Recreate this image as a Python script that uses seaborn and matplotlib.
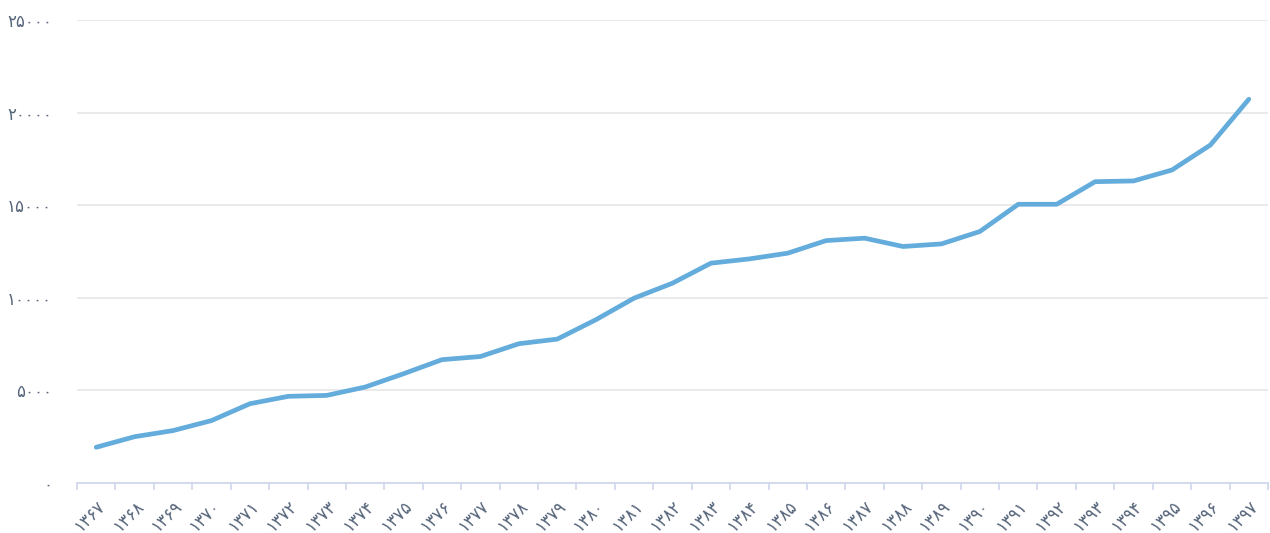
import matplotlib
matplotlib.use("Agg")
import matplotlib.pyplot as plt
from matplotlib.ticker import FixedLocator, FuncFormatter
import seaborn as sns
import pandas as pd

# Solar Hijri years and their values
years = list(range(1367, 1398))
values = [1930, 2500, 2830, 3370, 4280, 4680, 4730, 5180, 5900, 6660,
          6830, 7520, 7770, 8810, 9980, 10790, 11870, 12100, 12410, 13090,
          13220, 12770, 12910, 13580, 15050, 15050, 16270, 16310, 16900,
          18250, 20720]
y_ticks = [0, 5000, 10000, 15000, 20000, 25000]

PERSIAN = str.maketrans("0123456789", "۰۱۲۳۴۵۶۷۸۹")


def fa(n):
    return str(int(n)).translate(PERSIAN)


sns.set_theme(style="white")
plt.rcParams["font.family"] = ["DejaVu Sans"]

df = pd.DataFrame({"pos": range(len(years)), "value": values})

fig = plt.figure(figsize=(12.7, 5.33), dpi=100)
ax = fig.add_axes([77 / 1270, 1 - 483 / 533, (1268 - 77) / 1270, (483 - 20) / 533])

sns.lineplot(data=df, x="pos", y="value", ax=ax, color="#64acdb",
             linewidth=3.4, solid_capstyle="round", solid_joinstyle="round")

ax.set_xlim(-0.5, len(years) - 0.5)
ax.set_ylim(0, 25000)

label_color = "#56657a"
ax.yaxis.set_major_locator(FixedLocator(y_ticks))
ax.yaxis.set_major_formatter(FuncFormatter(lambda v, p: fa(v)))
ax.tick_params(axis="y", length=0, pad=18, labelsize=12, labelcolor=label_color)
ax.grid(axis="y", color="#e6e6e6", linewidth=1.2)

# category labels at centres, tick marks on category boundaries
ax.set_xticks(range(len(years)))
ax.set_xticklabels([fa(y) for y in years], rotation=45, ha="right",
                   rotation_mode="anchor", fontsize=12, color=label_color)
ax.set_xticks([i - 0.5 for i in range(len(years) + 1)], minor=True)
ax.tick_params(axis="x", which="major", length=0, pad=10)
ax.tick_params(axis="x", which="minor", length=5, width=1.2, color="#ccd6eb",
               bottom=True)

for side in ("top", "right", "left"):
    ax.spines[side].set_visible(False)
ax.spines["bottom"].set_color("#ccd6eb")
ax.spines["bottom"].set_linewidth(1.2)
ax.set_xlabel("")
ax.set_ylabel("")

fig.savefig("out.png", dpi=100, facecolor="white")
